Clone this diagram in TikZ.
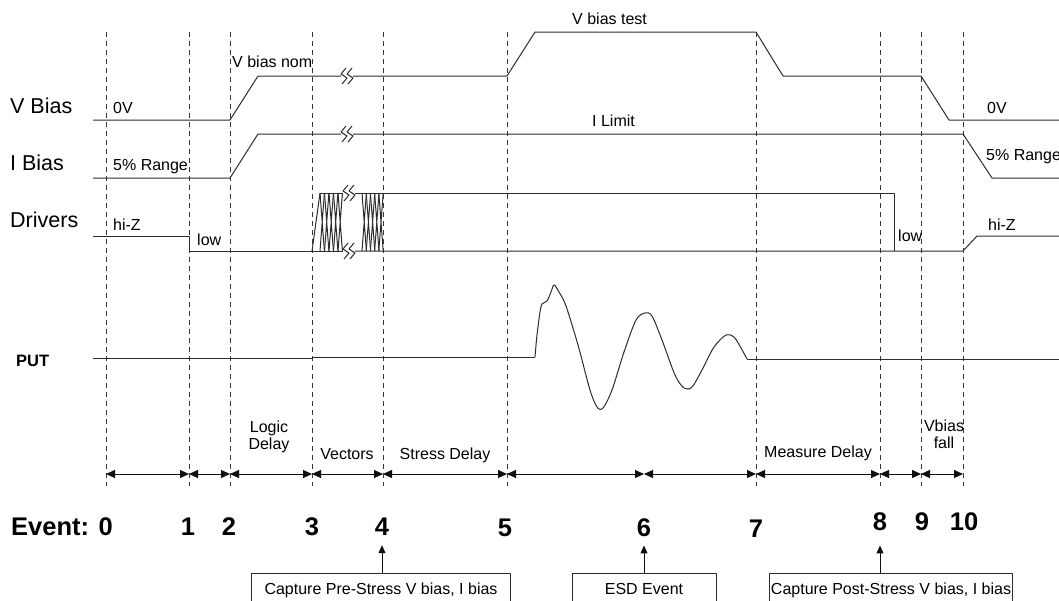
\documentclass[tikz,border=0pt]{standalone}
\usepackage{fontspec}
\setmainfont{Liberation Sans}
\usetikzlibrary{arrows.meta}
\definecolor{ink}{RGB}{15,15,15}
\definecolor{sigc}{RGB}{45,45,45}
\definecolor{grid}{RGB}{55,55,55}

\tikzset{
  sig/.style={sigc, line width=1pt},
  gridline/.style={grid, line width=1pt, dash pattern=on 5pt off 4pt},
  lbl/.style={inner sep=0pt, font=\fontsize{16}{17}\selectfont},
  rowname/.style={inner sep=0pt, anchor=base west, font=\fontsize{21.5}{24}\selectfont},
  evnum/.style={inner sep=0pt, anchor=base, font=\fontsize{25.5}{28}\bfseries\selectfont},
  span/.style={ink, line width=1pt, {Triangle[length=9pt,width=8pt]}-{Triangle[length=9pt,width=8pt]}},
  tip/.style={ink, line width=1pt, -{Triangle[length=8pt,width=7pt]}},
  capbox/.style={lbl, draw=sigc, line width=1pt, anchor=north, inner ysep=3pt,
    text height=17.5pt, text depth=25pt, minimum width=#1},
  brk/.pic={\draw[sig] (5,-8) -- (0,-2) -- (6,2) -- (1,8) (11,-8) -- (6,-2) -- (12,2) -- (7,8);}
}

\begin{document}
\begin{tikzpicture}[x=1pt, y=-1pt, line join=round]
\useasboundingbox (0,0) rectangle (1059,600);
\fill[white] (0,0) rectangle (1059,600);
\clip (0,0) rectangle (1059,600);

% event lines
\foreach \xx in {106,189,230,312,383,507,756,880,921,963}
  \draw[gridline] (\xx,32) -- (\xx,486);

% row names
\node[rowname] (vb) at (10,113) {V Bias};
\node[rowname] (ib) at (10,170) {I Bias};
\node[rowname] (drv) at (10,227) {Drivers};
\node[rowname, font=\fontsize{16.5}{18}\bfseries\selectfont] (put) at (16,366) {PUT};

% V bias
\draw[sig] (93,120) -- (230,120) -- (258,76) -- (341,76);
\draw[sig] (353,76) -- (507,76) -- (535,32) -- (756,32) -- (783,76) -- (921,76) -- (949,120) -- (1059,120);
\pic at (341,76) {brk};

% I bias
\draw[sig] (93,178) -- (230,178) -- (258,134) -- (341,134);
\draw[sig] (353,134) -- (963,134) -- (992,178) -- (1059,178);
\pic at (341,134) {brk};

% drivers
\draw[sig] (93,236) -- (189,236) -- (189,251) -- (343,251);
\draw[sig] (355,251) -- (963,251) -- (977,236) -- (1059,236);
\draw[sig] (320,193) -- (343,193);
\draw[sig] (355,193) -- (894,193) -- (894,251);
\pic at (343,193) {brk};
\pic at (343,251) {brk};
\draw[sig] (312,251) -- (320,193);
\foreach \xa in {320,324.5,329,333.5,338,362,366.2,370.4,374.6,378.8}
  \draw[sig] (\xa,193) -- (\xa+4.4,251) (\xa+4.4,193) -- (\xa,251);

% PUT with the ESD ringing
\draw[sig] (93,358) -- (312,358) -- (312,357) -- (535,357);
\draw[sig] plot[smooth, tension=0.5] coordinates {(535,357) (537,335) (540,312) (542,304) (547,301)
  (551,292) (554,285) (559,292) (566,306) (578,345) (590,390) (597,407) (603,408) (612,390)
  (624,352) (636,320) (645,313) (652,316) (662,340) (675,375) (684,388) (692,387) (702,370)
  (714,347) (726,335) (734,337) (741,348) (747,359)};
\draw[sig] (747,359) -- (1059,359);

% level labels
\foreach \nm/\xx/\yy/\tx in {vlo/113/113/0V, vnom/232/67/V bias nom, vtest/572/24/V bias test,
    vlo2/987/113/0V, ilo/113/170/5\% Range, ilim/592/126/I Limit, ilo2/986/160/5\% Range,
    hiz/113/230/hi-Z, lowa/197/245/low, lowb/898/241/low, hiz2/988/230/hi-Z}
  \node[lbl, anchor=base west] (\nm) at (\xx,\yy) {\tx};

% time spans
\foreach \n/\xx in {0/106,1/189,2/230,3/312,4/383,5/507,6/644,7/756,8/880,9/921,10/963}
  \coordinate (t\n) at (\xx,474);
\foreach \a/\b in {0/1,1/2,2/3,3/4,4/5,5/6,6/7,7/8,8/9,9/10}
  \draw[span] (t\a) -- (t\b);
\node[lbl, align=center, anchor=base] (logic) at (269,449) {Logic\\Delay};
\node[lbl, anchor=base] (vec) at (347,459) {Vectors};
\node[lbl, anchor=base] (sdel) at (445,459) {Stress Delay};
\node[lbl, anchor=base] (mdel) at (818,457) {Measure Delay};
\node[lbl, align=center, anchor=base] (vfall) at (944,448) {Vbias\\fall};

% event numbers
\node[evnum, anchor=base east] (ev0) at (113,535) {Event: 0};
\foreach \n/\xx/\yy in {1/188/535,2/229/535,3/312/535,4/382/535,5/505/536,6/644/536,
    7/756/537,8/880/530,9/922/530,10/964/530}
  \node[evnum] (e\n) at (\xx,\yy) {\n};

% capture boxes
\node[capbox=259] (pre) at (381,573) {Capture Pre-Stress V bias, I bias};
\node[capbox=144] (esd) at (644,573) {ESD Event};
\node[capbox=243] (post) at (891,573) {Capture Post-Stress V bias, I bias};
\foreach \bx/\ev/\gap in {pre/4/10, esd/6/9, post/8/15}
  \draw[tip, shorten >=\gap pt] (e\ev |- \bx.north) -- (e\ev.south);
\end{tikzpicture}
\end{document}
